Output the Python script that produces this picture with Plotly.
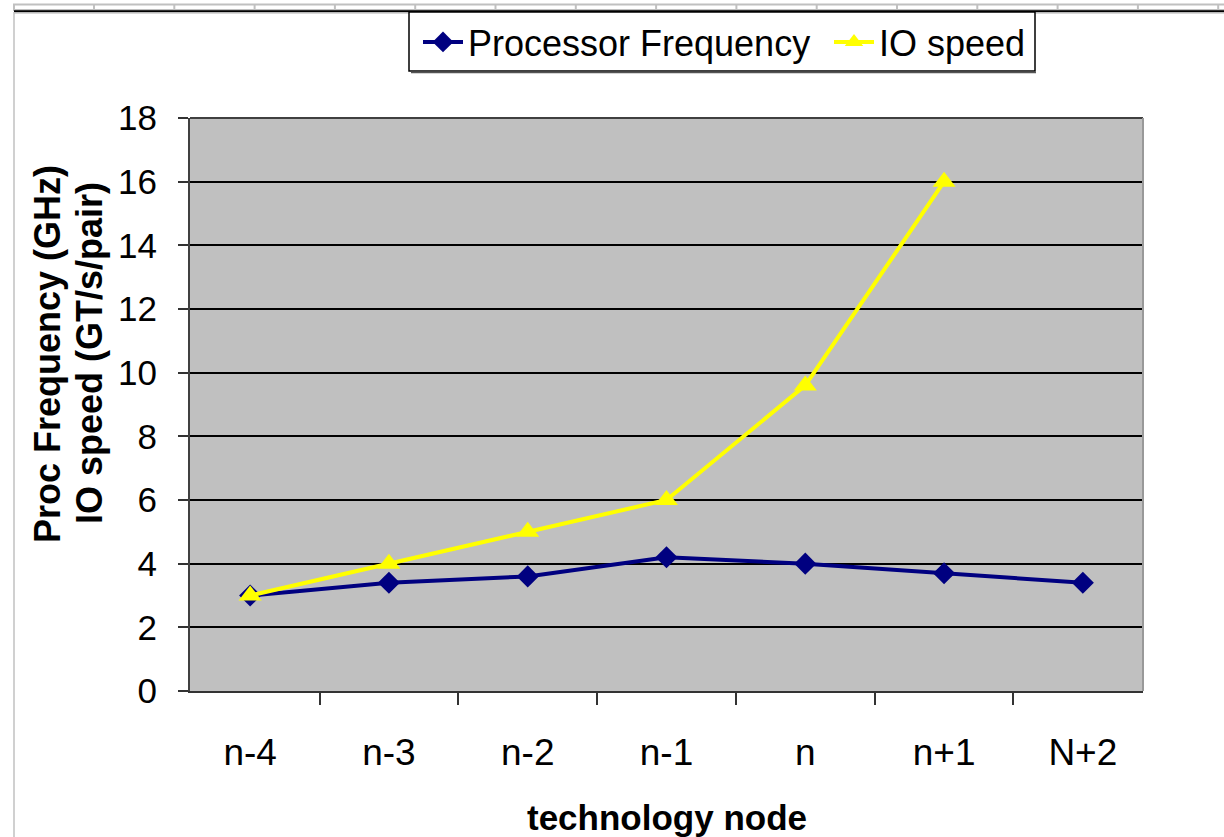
import plotly.graph_objects as go

categories = ["n-4", "n-3", "n-2", "n-1", "n", "n+1", "N+2"]
proc_freq = [3.0, 3.4, 3.6, 4.2, 4.0, 3.7, 3.4]
io_speed = [3.0, 4.0, 5.0, 6.0, 9.6, 16.0, None]
y_ticks = [0, 2, 4, 6, 8, 10, 12, 14, 16, 18]

FONT = "Liberation Sans, Arial, sans-serif"
W, H = 1224, 837
L, R, T, B = 190, 1143, 118, 691

def px(x):
    return (x - L) / (R - L)

def py(y):
    return (B - y) / (B - T)

fig = go.Figure()
fig.add_trace(go.Scatter(
    x=categories, y=proc_freq, name="Processor Frequency", mode="lines+markers",
    line=dict(color="#000080", width=4),
    marker=dict(symbol="diamond", size=17, color="#000080"),
    legend="legend",
))
fig.add_trace(go.Scatter(
    x=categories, y=io_speed, name="IO speed", mode="lines+markers",
    line=dict(color="#FFFF00", width=4),
    marker=dict(symbol="triangle-up", size=20, color="#FFFF00"),
    legend="legend2",
))

shapes = []
# spreadsheet-like strip on top
shapes.append(dict(type="rect", xref="paper", yref="paper",
                   x0=px(14), x1=px(1226), y0=py(4.5), y1=py(10),
                   line=dict(color="#c0c0c0", width=2), fillcolor="white", layer="above"))
for k in range(15):
    xs = 94 + k * 80.3
    shapes.append(dict(type="line", xref="paper", yref="paper",
                       x0=px(xs), x1=px(xs), y0=py(4.5), y1=py(10),
                       line=dict(color="#c0c0c0", width=2)))
shapes.append(dict(type="line", xref="paper", yref="paper",
                   x0=px(14), x1=px(1226), y0=py(11.3), y1=py(11.3),
                   line=dict(color="black", width=2)))
shapes.append(dict(type="line", xref="paper", yref="paper",
                   x0=px(14), x1=px(1226), y0=py(13), y1=py(13),
                   line=dict(color="#b0b0b0", width=1)))
shapes.append(dict(type="line", xref="paper", yref="paper",
                   x0=px(14), x1=px(14), y0=py(12), y1=py(840),
                   line=dict(color="#c0c0c0", width=1.5)))
# legend box + shadow
shapes.append(dict(type="rect", xref="paper", yref="paper",
                   x0=px(409), x1=px(1035), y0=py(12), y1=py(71),
                   line=dict(color="black", width=1.5), fillcolor="white", layer="above"))
shapes.append(dict(type="line", xref="paper", yref="paper",
                   x0=px(411), x1=px(1036), y0=py(72.5), y1=py(72.5),
                   line=dict(color="#555555", width=1.5)))
# plot frame top/right
shapes.append(dict(type="line", xref="paper", yref="paper",
                   x0=0, x1=1, y0=1, y1=1, line=dict(color="#404040", width=2)))
shapes.append(dict(type="line", xref="paper", yref="paper",
                   x0=1, x1=1, y0=0, y1=1, line=dict(color="#999999", width=2)))

legend_common = dict(
    orientation="h", yanchor="middle", y=py(42),
    bgcolor="rgba(0,0,0,0)", borderwidth=0,
    font=dict(size=36, family=FONT), itemwidth=40,
)

fig.update_layout(
    width=W, height=H,
    margin=dict(l=L, r=W - R, t=T, b=H - B),
    paper_bgcolor="white",
    plot_bgcolor="#C0C0C0",
    font=dict(family=FONT, color="black"),
    shapes=shapes,
    showlegend=True,
    legend=dict(x=px(418), xanchor="left", **legend_common),
    legend2=dict(x=px(829), xanchor="left", **legend_common),
    annotations=[
        dict(text="<b>Proc Frequency (GHz)</b>",
             xref="paper", yref="paper", x=px(47), y=py(354),
             xanchor="center", yanchor="middle", textangle=-90, showarrow=False,
             font=dict(size=36, family=FONT, color="black")),
        dict(text="<b>IO speed (GT/s/pair)</b>",
             xref="paper", yref="paper", x=px(89), y=py(353),
             xanchor="center", yanchor="middle", textangle=-90, showarrow=False,
             font=dict(size=36, family=FONT, color="black")),
        dict(text="<b>technology node</b>",
             xref="paper", yref="paper", x=0.5, y=py(818),
             xanchor="center", yanchor="middle", showarrow=False,
             font=dict(size=35, family=FONT, color="black")),
    ],
)

fig.update_xaxes(
    type="category", categoryorder="array", categoryarray=categories,
    tickson="boundaries", ticks="outside", ticklen=12, tickwidth=1.5, tickcolor="#333333",
    showgrid=False, showline=True, linecolor="#333333", linewidth=2,
    tickfont=dict(size=37, family=FONT), ticklabelstandoff=28,
    zeroline=False, fixedrange=True,
)
fig.update_yaxes(
    range=[0, 18], tickvals=y_ticks, ticktext=[str(v) for v in y_ticks],
    ticks="outside", ticklen=10, tickwidth=1.5, tickcolor="#333333",
    showgrid=True, gridcolor="black", gridwidth=1.5,
    showline=True, linecolor="#404040", linewidth=2,
    tickfont=dict(size=35, family=FONT), ticklabelstandoff=14,
    zeroline=False, fixedrange=True,
)

fig.write_html("out.html", config={"displayModeBar": False})
